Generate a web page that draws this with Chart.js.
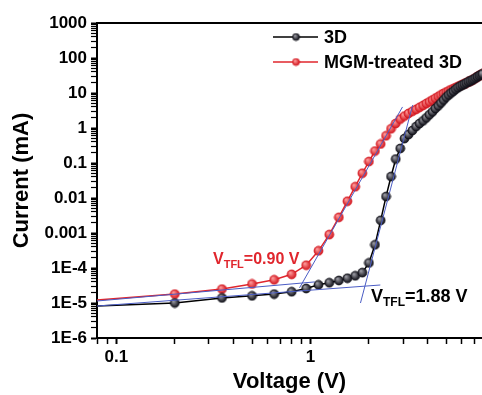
<!DOCTYPE html>
<html>
<head>
<meta charset="utf-8">
<script src="https://cdn.jsdelivr.net/npm/chart.js@4.4.1/dist/chart.umd.min.js"></script>
<style>
  html, body { margin: 0; padding: 0; background: #fff; overflow: hidden; }
  #wrap { width: 482px; height: 395px; }
</style>
</head>
<body>
<div id="wrap"><canvas id="chart"></canvas></div>
<script>
const voltage = [0.05, 0.2, 0.35, 0.5, 0.65, 0.8, 0.95, 1.1, 1.25, 1.4, 1.55, 1.7, 1.85, 2.0, 2.15, 2.3, 2.45, 2.6, 2.75, 2.9,
  3.05, 3.2, 3.35, 3.5, 3.65, 3.8, 3.95, 4.1, 4.25, 4.4, 4.55, 4.7, 4.85, 5.0, 5.15, 5.3, 5.45, 5.6, 5.75, 5.9,
  6.05, 6.2, 6.35, 6.5, 6.65, 6.8, 6.95, 7.1, 7.25, 7.4, 7.55, 7.7];
const current3D = [7.5e-6, 1.0e-5, 1.4e-5, 1.6e-5, 1.8e-5, 2.1e-5, 2.6e-5, 3.3e-5, 3.8e-5, 4.4e-5, 5.1e-5, 6.0e-5, 7.4e-5, 1.4e-4, 4.6e-4, 2.3e-3, 0.011, 0.041, 0.13, 0.26,
  0.5, 0.65, 0.85, 1.1, 1.35, 1.6, 1.95, 2.4, 2.9, 3.6, 4.3, 5.2, 6.3, 7.6, 8.8, 10.0, 11.3, 12.8, 14.2, 15.6,
  16.8, 18.0, 19.3, 20.8, 22, 23.5, 25, 27, 29, 31, 33, 35];
const currentMGM = [1.0e-5, 1.8e-5, 2.5e-5, 3.5e-5, 4.6e-5, 6.6e-5, 1.2e-4, 3.1e-4, 9e-4, 2.8e-3, 8.1e-3, 0.021, 0.051, 0.11, 0.22, 0.35, 0.6, 0.95, 1.35, 1.8,
  2.2, 2.6, 3.0, 3.4, 3.9, 4.4, 5.0, 5.6, 6.3, 7.1, 7.9, 8.8, 9.7, 10.6, 11.5, 12.3, 13.2, 14.2, 15.2, 16.2,
  17.2, 18.3, 19.3, 20.8, 22, 23.5, 25, 27, 29, 31, 33, 35];

// tangent lines used to find V_TFL
const fit3DLowV = [0.0795, 2.29];
const fit3DLowI = [8.2e-6, 3.27e-5];
const fit3DSteepV = [1.81, 3.36];
const fit3DSteepI = [1.0e-5, 4.5];
const fitMGMLowV = [0.0795, 1.05];
const fitMGMLowI = [1.14e-5, 4.0e-5];
const fitMGMSteepV = [0.878, 2.98];
const fitMGMSteepI = [2.7e-5, 4.0];

// axes
const xMajorTicks = [0.1, 1];
const xTickLabels = ['0.1', '1'];
const yMajorTicks = [1e-6, 1e-5, 1e-4, 1e-3, 0.01, 0.1, 1, 10, 100, 1000];
const yTickLabels = ['1E-6', '1E-5', '1E-4', '0.001', '0.01', '0.1', '1', '10', '100', '1000'];

const FONT = "'Liberation Sans', Arial, sans-serif";
Chart.defaults.font.family = FONT;
Chart.defaults.font.weight = 'bold';
Chart.defaults.color = '#000';

function sphere(r, base, light) {
  const c = document.createElement('canvas');
  c.width = c.height = Math.ceil(2 * r + 2);
  const g = c.getContext('2d');
  const m = c.width / 2;
  const grad = g.createRadialGradient(m - r * 0.35, m - r * 0.4, 0.3, m, m, r);
  grad.addColorStop(0, light);
  grad.addColorStop(1, base);
  g.fillStyle = grad;
  g.beginPath();
  g.arc(m, m, r, 0, Math.PI * 2);
  g.fill();
  g.lineWidth = 0.7;
  g.strokeStyle = base;
  g.stroke();
  return c;
}
const blackBall = sphere(4.5, '#0c0c14', '#a0a0a8');
const redBall = sphere(4.5, '#d3161e', '#ff9f9f');
const blackBallSmall = sphere(3.5, '#0c0c14', '#a0a0a8');
const redBallSmall = sphere(3.5, '#d3161e', '#ff9f9f');

function pts(xs, ys) { return xs.map((v, i) => ({ x: v, y: ys[i] })); }

function fitLine(xs, ys) {
  return {
    data: pts(xs, ys), borderColor: '#4a5cc4', borderWidth: 1,
    pointRadius: 0, fill: false, tension: 0
  };
}

function logTicks(majors, min, max) {
  const out = [];
  majors.concat([majors[0] / 10]).forEach(m => {
    for (let k = 1; k <= 9; k++) {
      const v = m * k;
      if (v >= min * 0.9999 && v <= max * 1.0001) out.push(v);
    }
  });
  return out.sort((a, b) => a - b).map(v => ({ value: v }));
}

function isMajor(list, v) { return list.some(m => Math.abs(m - v) / m < 1e-6); }

const xMin = 0.0795, xMax = 7.65, yMin = 1e-6, yMax = 1000;

const frame = {
  id: 'frame',
  afterDraw(chart) {
    const { ctx, chartArea: a } = chart;
    ctx.save();
    ctx.strokeStyle = '#000';
    ctx.lineWidth = 2;
    ctx.beginPath();
    ctx.moveTo(a.left - 1, a.top);
    ctx.lineTo(chart.width, a.top);
    ctx.stroke();

    // legend
    const rows = [
      { label: '3D', color: '#000', ball: blackBallSmall, y: 37 },
      { label: 'MGM-treated 3D', color: '#e0262d', ball: redBallSmall, y: 62 }
    ];
    ctx.font = 'bold 18px ' + FONT;
    ctx.textBaseline = 'middle';
    rows.forEach(r => {
      ctx.strokeStyle = r.color;
      ctx.lineWidth = 1.5;
      ctx.beginPath();
      ctx.moveTo(273, r.y);
      ctx.lineTo(318, r.y);
      ctx.stroke();
      ctx.drawImage(r.ball, 296 - r.ball.width / 2, r.y - r.ball.height / 2);
      ctx.fillStyle = '#000';
      ctx.fillText(r.label, 324, r.y + 1);
    });

    // V_TFL annotations
    function vtfl(x, y, value, color, big, small) {
      ctx.fillStyle = color;
      ctx.textBaseline = 'alphabetic';
      ctx.font = 'bold ' + big + 'px ' + FONT;
      ctx.fillText('V', x, y);
      let w = ctx.measureText('V').width;
      ctx.font = 'bold ' + small + 'px ' + FONT;
      ctx.fillText('TFL', x + w, y + 4);
      w += ctx.measureText('TFL').width;
      ctx.font = 'bold ' + big + 'px ' + FONT;
      ctx.fillText('=' + value + ' V', x + w, y);
    }
    vtfl(213, 264, '0.90', '#e0262d', 16, 11);
    vtfl(371, 302, '1.88', '#000', 18, 12);
    ctx.restore();
  }
};

new Chart(document.getElementById('chart'), {
  type: 'line',
  data: {
    datasets: [
      fitLine(fit3DLowV, fit3DLowI),
      fitLine(fit3DSteepV, fit3DSteepI),
      fitLine(fitMGMLowV, fitMGMLowI),
      fitLine(fitMGMSteepV, fitMGMSteepI),
      {
        label: '3D',
        data: pts(voltage, current3D),
        borderColor: '#000', borderWidth: 1.5,
        pointStyle: blackBall, pointRadius: 4.5, tension: 0
      },
      {
        label: 'MGM-treated 3D',
        data: pts(voltage, currentMGM),
        borderColor: '#e0262d', borderWidth: 1.5,
        pointStyle: redBall, pointRadius: 4.5, tension: 0
      }
    ]
  },
  options: {
    responsive: true,
    maintainAspectRatio: false,
    animation: false,
    layout: { autoPadding: false, padding: { top: 23, left: 0, right: 0, bottom: 0 } },
    plugins: { legend: { display: false }, tooltip: { enabled: false } },
    scales: {
      x: {
        type: 'logarithmic',
        position: 'bottom',
        min: xMin, max: xMax,
        afterBuildTicks: s => { s.ticks = logTicks(xMajorTicks, xMin, xMax); },
        afterFit: s => { s.height = 57; s.paddingRight = 0; s.paddingLeft = 0; },
        ticks: {
          autoSkip: false, maxRotation: 0, padding: 3,
          font: { size: 17, weight: 'bold' },
          callback: v => { const i = xMajorTicks.findIndex(m => Math.abs(m - v) / m < 1e-6); return i >= 0 ? xTickLabels[i] : ''; }
        },
        grid: {
          drawOnChartArea: false, tickLength: 6, tickColor: '#000',
          tickWidth: c => isMajor(xMajorTicks, c.tick.value) ? 2 : 1.5
        },
        border: { display: true, color: '#000', width: 2 },
        title: { display: true, text: 'Voltage (V)', font: { size: 22, weight: 'bold', lineHeight: 1.15 }, padding: { top: 0, bottom: 0 } }
      },
      y: {
        type: 'logarithmic',
        position: 'left',
        min: yMin, max: yMax,
        afterBuildTicks: s => { s.ticks = logTicks(yMajorTicks, yMin, yMax); },
        afterFit: s => { s.width = 97; },
        ticks: {
          autoSkip: false, padding: 4,
          font: { size: 17, weight: 'bold' },
          callback: v => { const i = yMajorTicks.findIndex(m => Math.abs(m - v) / m < 1e-6); return i >= 0 ? yTickLabels[i] : ''; }
        },
        grid: {
          drawOnChartArea: false, tickLength: 6, tickColor: '#000',
          tickWidth: c => isMajor(yMajorTicks, c.tick.value) ? 2 : 1.2
        },
        border: { display: true, color: '#000', width: 2 },
        title: { display: true, text: 'Current (mA)', font: { size: 22, weight: 'bold', lineHeight: 1.15 }, padding: { top: 9, bottom: 0 } }
      }
    }
  },
  plugins: [frame]
});
</script>
</body>
</html>
